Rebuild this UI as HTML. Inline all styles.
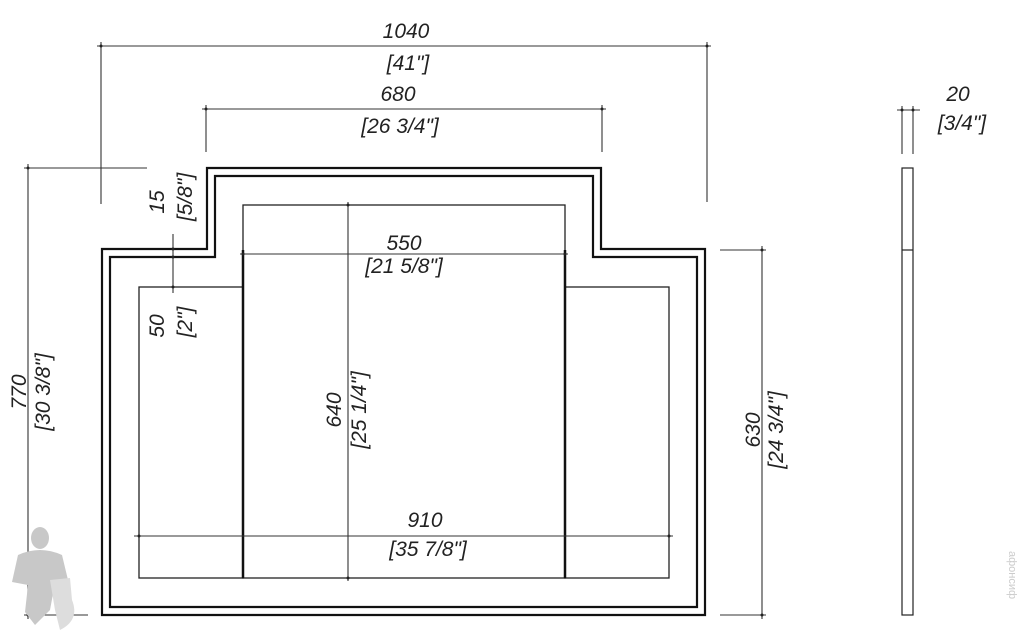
<!DOCTYPE html>
<html><head><style>
html,body{margin:0;padding:0;background:#fff;}
svg{display:block;}
text{font-family:"Liberation Sans",sans-serif;font-style:italic;font-size:21px;fill:#222;}
</style></head><body>
<svg width="1018" height="642" viewBox="0 0 1018 642" xmlns="http://www.w3.org/2000/svg">
<g fill="none" stroke="#111" stroke-width="2.2">
<polygon points="102,249 207,249 207,168 601,168 601,249 705,249 705,615 102,615"/>
<polygon points="110,257 215,257 215,176 593,176 593,257 697,257 697,607 110,607"/>
</g>
<g fill="none" stroke="#222" stroke-width="1.3">
<rect x="139" y="287" width="104" height="291"/>
<rect x="243" y="205" width="322" height="373"/>
<rect x="565" y="287" width="104" height="291"/>
</g>
<g stroke="#111" stroke-width="2.5"><line x1="243" y1="250" x2="243" y2="578"/><line x1="565" y1="250" x2="565" y2="578"/></g>
<g stroke="#333" stroke-width="1.1" fill="none">
<line x1="97" y1="46" x2="711" y2="46"/><line x1="101" y1="42" x2="101" y2="204"/><line x1="707" y1="42" x2="707" y2="202"/>
<line x1="202" y1="109" x2="606" y2="109"/><line x1="206" y1="105" x2="206" y2="152"/><line x1="602" y1="105" x2="602" y2="152"/>
<line x1="24" y1="168" x2="147" y2="168"/><line x1="28" y1="164" x2="28" y2="619"/><line x1="24" y1="615" x2="88" y2="615"/>
<line x1="173" y1="234" x2="173" y2="293"/>
<line x1="240" y1="254" x2="568" y2="254"/>
<line x1="348" y1="202" x2="348" y2="581"/>
<line x1="134" y1="536" x2="673" y2="536"/>
<line x1="720" y1="250" x2="766" y2="250"/><line x1="720" y1="615" x2="766" y2="615"/><line x1="762" y1="246" x2="762" y2="619"/>
<line x1="897" y1="110" x2="920" y2="110"/><line x1="902" y1="106" x2="902" y2="154"/><line x1="913" y1="106" x2="913" y2="154"/>
</g>
<rect x="902" y="168" width="11" height="447" fill="none" stroke="#222" stroke-width="1.2"/>
<line x1="902" y1="250" x2="913" y2="250" stroke="#222" stroke-width="1.2"/>
<g fill="#222">
<circle cx="101" cy="46" r="1.5"/><circle cx="707" cy="46" r="1.5"/><circle cx="206" cy="109" r="1.5"/><circle cx="602" cy="109" r="1.5"/>
<circle cx="28" cy="168" r="1.5"/><circle cx="28" cy="615" r="1.5"/><circle cx="173" cy="249" r="1.5"/><circle cx="173" cy="257" r="1.5"/><circle cx="173" cy="287" r="1.5"/>
<circle cx="243" cy="254" r="1.5"/><circle cx="565" cy="254" r="1.5"/><circle cx="348" cy="205" r="1.5"/><circle cx="348" cy="578" r="1.5"/>
<circle cx="139" cy="536" r="1.5"/><circle cx="669" cy="536" r="1.5"/><circle cx="762" cy="250" r="1.5"/><circle cx="762" cy="615" r="1.5"/>
<circle cx="902" cy="110" r="1.5"/><circle cx="913" cy="110" r="1.5"/>
</g>
<g text-anchor="middle">
<text x="406" y="38">1040</text><text x="408" y="70">[41"]</text>
<text x="398" y="101">680</text><text x="400" y="133">[26 3/4"]</text>
<text x="404" y="250">550</text><text x="404" y="273">[21 5/8"]</text>
<text x="425" y="527">910</text><text x="428" y="556">[35 7/8"]</text>
<text x="958" y="101">20</text><text x="962" y="130">[3/4"]</text>
<text transform="translate(26,392) rotate(-90)">770</text>
<text transform="translate(50,392) rotate(-90)">[30 3/8"]</text>
<text transform="translate(164,202) rotate(-90)">15</text>
<text transform="translate(192,197) rotate(-90)">[5/8"]</text>
<text transform="translate(164,326) rotate(-90)">50</text>
<text transform="translate(192,322) rotate(-90)">[2"]</text>
<text transform="translate(341,410) rotate(-90)">640</text>
<text transform="translate(366,410) rotate(-90)">[25 1/4"]</text>
<text transform="translate(760,430) rotate(-90)">630</text>
<text transform="translate(783,430) rotate(-90)">[24 3/4"]</text>
<text transform="translate(1009,575) rotate(90)" style="font-size:11px;fill:#ccc;font-style:normal">афонсиф</text>
</g>
<g fill="#c8c8c8">
<ellipse cx="40" cy="538" rx="9" ry="11"/>
<path d="M18,555 Q40,545 62,555 L68,580 L55,583 L50,610 L35,625 L25,612 L28,585 L12,582 Z"/>
<path d="M50,580 L70,578 L72,600 Q80,620 60,630 L55,610 Z" fill="#ddd"/>
</g>
</svg>
</body></html>
